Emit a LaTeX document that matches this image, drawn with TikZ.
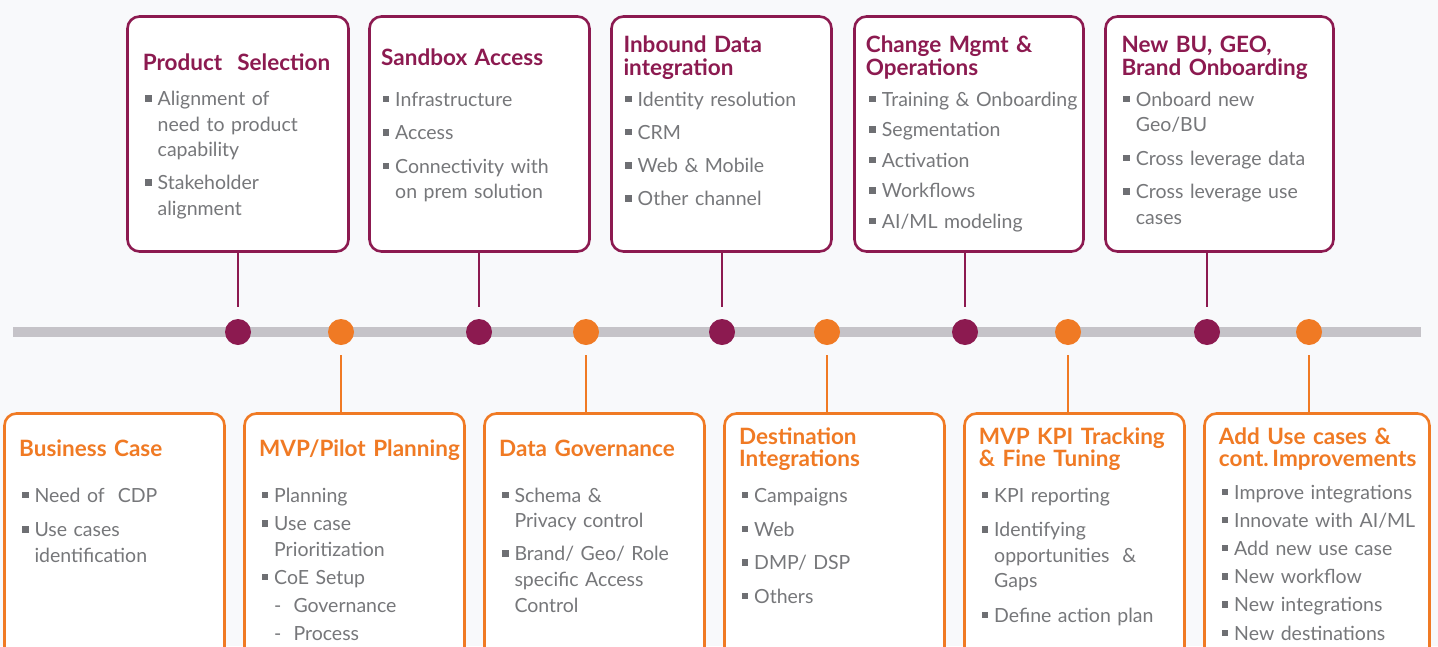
\documentclass[tikz,border=0pt]{standalone}
\usepackage{fontspec}
\setmainfont{Lato}
\usetikzlibrary{calc}

\definecolor{plum}{HTML}{8C1A50}
\definecolor{tang}{HTML}{F07A24}
\definecolor{barg}{HTML}{C5C3C8}
\definecolor{bgc}{HTML}{F8F9FB}
\definecolor{txt}{HTML}{76777A}
\definecolor{sq}{HTML}{6E6F73}

% bullet square hanging to the left of the text column
\newcommand\bsq{\leavevmode\llap{\textcolor{sq}{\rule[4pt]{6.5pt}{6.5pt}}\hspace{6pt}}}
% first item of a list, and every following item
\newcommand\fitm[1]{\setlength{\parskip}{#1pt}\bsq}
\newcommand\itm{\par\bsq}

\tikzset{
  box/.style={draw, line width=2.6pt, fill=white, rounded corners=12pt, inner sep=0pt, outer sep=0pt},
  topbox/.style={box, draw=plum, minimum height=235pt},
  botbox/.style={box, draw=tang, minimum height=266.5pt},
  pdot/.style={circle, fill=plum, minimum size=26pt, inner sep=0pt},
  odot/.style={circle, fill=tang, minimum size=26pt, inner sep=0pt},
  pline/.style={draw=plum, line width=2.6pt},
  oline/.style={draw=tang, line width=2.6pt},
  ttl/.style={anchor=base west, inner sep=0pt, text width=320pt, align=left,
    font=\bfseries\fontsize{22.5}{22.7}\selectfont},
  ptitle/.style={ttl, text=plum},
  otitle/.style={ttl, text=tang},
  body/.style={anchor=base west, inner sep=0pt, text width=260pt, align=left,
    text=txt, font=\fontsize{19.5}{25.6}\selectfont},
}

\begin{document}
\begin{tikzpicture}[x=1pt, y=-1pt]
  \clip (0,0) rectangle (1438,646);
  \fill[bgc] (0,0) rectangle (1438,646);

  % timeline bar
  \draw[barg, line width=10pt] (13,332) -- (1421,332);

  % milestone dots
  \node[pdot] (p1) at (238,332) {};
  \node[odot] (o1) at (341,332) {};
  \node[pdot] (p2) at (479,332) {};
  \node[odot] (o2) at (586,332) {};
  \node[pdot] (p3) at (722,332) {};
  \node[odot] (o3) at (827,332) {};
  \node[pdot] (p4) at (965,332) {};
  \node[odot] (o4) at (1068,332) {};
  \node[pdot] (p5) at (1207,332) {};
  \node[odot] (o5) at (1309,332) {};

  % upper boxes
  \node[topbox, minimum width=221pt] (tb1) at (238,134) {};
  \node[topbox, minimum width=220pt] (tb2) at (479.5,134) {};
  \node[topbox, minimum width=220pt] (tb3) at (721.5,134) {};
  \node[topbox, minimum width=229pt] (tb4) at (969,134) {};
  \node[topbox, minimum width=228pt] (tb5) at (1219.5,134) {};

  % lower boxes
  \node[botbox, minimum width=220pt] (bb1) at (114.5,546.75) {};
  \node[botbox, minimum width=220pt] (bb2) at (354.5,546.75) {};
  \node[botbox, minimum width=220pt] (bb3) at (594.5,546.75) {};
  \node[botbox, minimum width=220pt] (bb4) at (834.5,546.75) {};
  \node[botbox, minimum width=220pt] (bb5) at (1074.5,546.75) {};
  \node[botbox, minimum width=225pt] (bb6) at (1317,546.75) {};

  % stems between boxes and dots
  \coordinate (pt1) at (238,307);
  \coordinate (pt2) at (479,307);
  \coordinate (pt3) at (722,307);
  \coordinate (pt4) at (965,307);
  \coordinate (pt5) at (1207,307);
  \draw[pline] (tb1.south -| pt1) -- (pt1);
  \draw[pline] (tb2.south -| pt2) -- (pt2);
  \draw[pline] (tb3.south -| pt3) -- (pt3);
  \draw[pline] (tb4.south -| pt4) -- (pt4);
  \draw[pline] (tb5.south -| pt5) -- (pt5);

  \coordinate (ot1) at (341,355);
  \coordinate (ot2) at (586,355);
  \coordinate (ot3) at (827,355);
  \coordinate (ot4) at (1068,355);
  \coordinate (ot5) at (1309,355);
  \draw[oline] (ot1) -- (ot1 |- bb2.north);
  \draw[oline] (ot2) -- (ot2 |- bb3.north);
  \draw[oline] (ot3) -- (ot3 |- bb4.north);
  \draw[oline] (ot4) -- (ot4 |- bb5.north);
  \draw[oline] (ot5) -- (ot5 |- bb6.north);

  % upper box texts
  \node[ptitle] (tt1) at (142.7,70) {Product\ \ Selection};
  \node[body] (tx1) at (157.5,105.5) {\fitm{7.4}Alignment of\\ need to product\\ capability
    \itm Stakeholder\\ alignment};

  \node[ptitle] (tt2) at (381,65.7) {Sandbox Access};
  \node[body] (tx2) at (395,106) {\fitm{7.9}Infrastructure
    \itm Access
    \itm Connectivity with\\ on prem solution};

  \node[ptitle] (tt3) at (623.3,52.3) {Inbound Data\\ integration};
  \node[body] (tx3) at (637.5,106) {\fitm{7.7}Identity resolution
    \itm CRM
    \itm Web \& Mobile
    \itm Other channel};

  \node[ptitle] (tt4) at (865.7,52.3) {Change Mgmt \&\\ Operations};
  \node[body] (tx4) at (881.7,106) {\fitm{5}Training \& Onboarding
    \itm Segmentation
    \itm Activation
    \itm Workflows
    \itm AI/ML modeling};

  \node[ptitle] (tt5) at (1121.3,52.3) {New BU, GEO,\\ Brand Onboarding};
  \node[body] (tx5) at (1135.7,106) {\fitm{8}Onboard new\\ Geo/BU
    \itm Cross leverage data
    \itm Cross leverage use\\ cases};

  % lower box texts
  \node[otitle] (bt1) at (19,456) {Business Case};
  \node[body] (bx1) at (34.3,502.3) {\fitm{8.8}Need of\ \ CDP
    \itm Use cases\\ identification};

  \node[otitle] (bt2) at (259,456) {MVP/Pilot Planning};
  \node[body] (bx2) at (274,502.3) {\fitm{2.6}Planning
    \itm Use case\\ Prioritization
    \itm CoE Setup
    \par\makebox[19.3pt][l]{-}Governance
    \par\makebox[19.3pt][l]{-}Process};

  \node[otitle] (bt3) at (499,456) {Data Governance};
  \node[body] (bx3) at (514.3,502.3) {\fitm{7.4}Schema \&\\ Privacy control
    \itm Brand/ Geo/ Role\\ specific Access\\ Control};

  \node[otitle] (bt4) at (739,444) {Destination\\ Integrations};
  \node[body] (bx4) at (754,502.3) {\fitm{8.1}Campaigns
    \itm Web
    \itm DMP/ DSP
    \itm Others};

  \node[otitle] (bt5) at (978.7,444) {MVP KPI Tracking\\ \& Fine Tuning};
  \node[body] (bx5) at (994,502.3) {\fitm{8.8}KPI reporting
    \itm Identifying\\ opportunities\ \ \&\\ Gaps
    \itm Define action plan};

  \node[otitle] (bt6) at (1218.7,444) {Add Use cases \&\\ cont.\,Improvements};
  \node[body] (bx6) at (1234,499) {\fitm{2.6}Improve integrations
    \itm Innovate with AI/ML
    \itm Add new use case
    \itm New workflow
    \itm New integrations
    \itm New destinations};
\end{tikzpicture}
\end{document}
